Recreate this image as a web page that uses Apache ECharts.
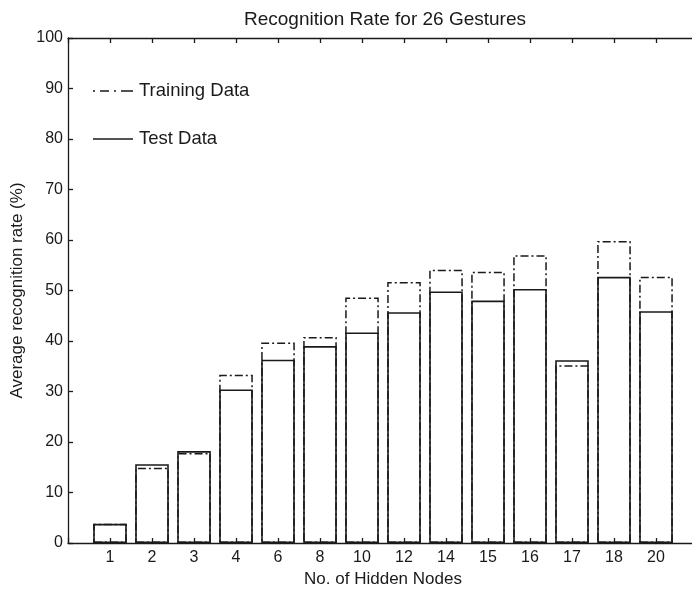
<!DOCTYPE html>
<html>
<head>
<meta charset="utf-8">
<script src="https://cdn.jsdelivr.net/npm/echarts@6/dist/echarts.min.js"></script>
<style>
  html, body { margin: 0; padding: 0; background: #ffffff; }
  #chart { width: 692px; height: 589px; }
</style>
</head>
<body>
<div id="chart"></div>
<script>
// ---- data ----
const hiddenNodes = ['1', '2', '3', '4', '6', '8', '10', '12', '14', '15', '16', '17', '18', '20'];
const trainingData = [3.8, 14.9, 17.8, 33.3, 39.7, 40.8, 48.6, 51.7, 54.1, 53.7, 57.0, 35.2, 59.8, 52.7];
const testData = [3.8, 15.6, 18.2, 30.4, 36.3, 39.0, 41.7, 45.7, 49.8, 48.0, 50.3, 36.2, 52.7, 45.9];
const yTicks = [0, 10, 20, 30, 40, 50, 60, 70, 80, 90, 100];

const FONT = '"Liberation Sans", Arial, Helvetica, sans-serif';
const INK = '#1a1a1a';

const toPairs = arr => arr.map((v, i) => [i + 1, v]);

const xAxisBase = {
  type: 'value',
  min: 0,
  max: hiddenNodes.length + 1,
  interval: 1,
  splitLine: { show: false },
  axisLine: { show: true, onZero: false, lineStyle: { color: INK, width: 1.3 } },
  axisTick: { show: true, inside: true, length: 5, lineStyle: { color: INK, width: 1.3 } }
};

const chart = echarts.init(document.getElementById('chart'), null, { renderer: 'canvas' });
chart.setOption({
  animation: false,
  backgroundColor: '#ffffff',
  title: {
    text: 'Recognition Rate for 26 Gestures',
    left: 239,
    top: 5,
    textStyle: { fontFamily: FONT, fontSize: 19, fontWeight: 'normal', color: INK }
  },
  legend: {
    orient: 'vertical',
    left: 88,
    top: 76,
    itemWidth: 42,
    itemHeight: 1.6,
    itemGap: 28,
    textStyle: { fontFamily: FONT, fontSize: 18.5, color: INK, lineHeight: 20 },
    data: [
      {
        name: 'Training Data',
        icon: 'path://M0,0H2V1.6H0Z M7,0H16V1.6H7Z M21,0H23V1.6H21Z M28,0H40V1.6H28Z',
        itemStyle: { color: INK, borderWidth: 0, borderColor: 'transparent' }
      },
      {
        name: 'Test Data',
        icon: 'path://M0,0H40V1.6H0Z',
        itemStyle: { color: INK, borderWidth: 0, borderColor: 'transparent' }
      }
    ]
  },
  grid: { left: 68, width: 630, top: 38, height: 505, containLabel: false, outerBoundsMode: 'none' },
  xAxis: [
    Object.assign({}, xAxisBase, {
      position: 'bottom',
      name: 'No. of Hidden Nodes',
      nameLocation: 'middle',
      nameGap: 28,
      nameTextStyle: { fontFamily: FONT, fontSize: 17, color: INK },
      axisLabel: {
        show: true,
        margin: 7,
        fontFamily: FONT,
        fontSize: 16,
        color: INK,
        formatter: v => (v >= 1 && v <= hiddenNodes.length) ? hiddenNodes[v - 1] : ''
      }
    }),
    Object.assign({}, xAxisBase, {
      position: 'top',
      axisLabel: { show: false }
    })
  ],
  yAxis: {
    type: 'value',
    min: yTicks[0],
    max: yTicks[yTicks.length - 1],
    interval: yTicks[1] - yTicks[0],
    splitLine: { show: false },
    name: 'Average recognition rate (%)',
    nameLocation: 'middle',
    nameGap: 31,
    nameTextStyle: { fontFamily: FONT, fontSize: 17, color: INK },
    axisLine: { show: true, onZero: false, lineStyle: { color: INK, width: 1.3 } },
    axisTick: { show: true, inside: true, length: 5, lineStyle: { color: INK, width: 1.3 } },
    axisLabel: { margin: 5, fontFamily: FONT, fontSize: 16, color: INK }
  },
  series: [
    {
      name: 'Training Data',
      type: 'bar',
      xAxisIndex: 0,
      data: toPairs(trainingData),
      barWidth: '80%',
      barGap: '-100%',
      z: 2,
      itemStyle: {
        color: 'transparent',
        borderColor: INK,
        borderWidth: 1.5,
        borderType: [8, 3, 2, 3]
      },
      emphasis: { disabled: true }
    },
    {
      name: 'Test Data',
      type: 'bar',
      xAxisIndex: 0,
      data: toPairs(testData),
      barWidth: '80%',
      barGap: '-100%',
      z: 3,
      itemStyle: {
        color: 'transparent',
        borderColor: INK,
        borderWidth: 1.6
      },
      emphasis: { disabled: true }
    }
  ]
});
</script>
</body>
</html>
